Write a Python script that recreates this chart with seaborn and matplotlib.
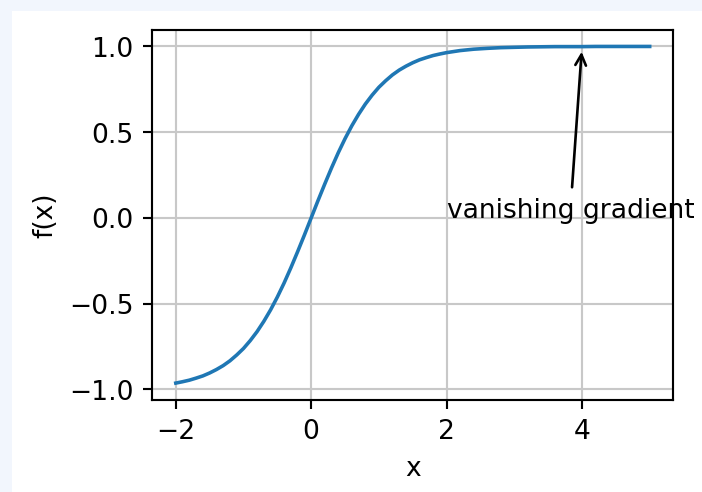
import matplotlib
matplotlib.use("Agg")
import matplotlib.pyplot as plt
from matplotlib.patches import Rectangle
import seaborn as sns

# tanh activation sampled along x
x_vals = [-2.0, -1.9, -1.8, -1.7, -1.6, -1.5, -1.4, -1.3, -1.2, -1.1,
          -1.0, -0.9, -0.8, -0.7, -0.6, -0.5, -0.4, -0.3, -0.2, -0.1,
          0.0, 0.1, 0.2, 0.3, 0.4, 0.5, 0.6, 0.7, 0.8, 0.9,
          1.0, 1.1, 1.2, 1.3, 1.4, 1.5, 1.6, 1.7, 1.8, 1.9,
          2.0, 2.2, 2.4, 2.6, 2.8, 3.0, 3.2, 3.4, 3.6, 3.8,
          4.0, 4.2, 4.4, 4.6, 4.8, 5.0]
y_vals = [-0.964, -0.956, -0.947, -0.935, -0.922, -0.905, -0.885, -0.862, -0.834, -0.800,
          -0.762, -0.716, -0.664, -0.604, -0.537, -0.462, -0.380, -0.291, -0.197, -0.100,
          0.000, 0.100, 0.197, 0.291, 0.380, 0.462, 0.537, 0.604, 0.664, 0.716,
          0.762, 0.800, 0.834, 0.862, 0.885, 0.905, 0.922, 0.935, 0.947, 0.956,
          0.964, 0.976, 0.984, 0.989, 0.993, 0.995, 0.997, 0.998, 0.999, 0.999,
          0.999, 1.000, 1.000, 1.000, 1.000, 1.000]
annot_text = "vanishing gradient"
annot_xy = (4, 1)
annot_text_xy = (2, 0.0)

DPI = 191
fig = plt.figure(figsize=(702.4 / DPI, 492.4 / DPI), dpi=DPI)
fig.patch.set_facecolor("#f2f6fd")
fig.add_artist(Rectangle((12 / 702, 0), 1, 1 - 11 / 492, transform=fig.transFigure,
                         facecolor="white", edgecolor="none", zorder=-10))

ax = fig.add_axes([152 / 702, 1 - 400 / 492, (673 - 152) / 702, (400 - 30) / 492])
sns.lineplot(x=x_vals, y=y_vals, ax=ax, color="#1f77b4", linewidth=1.35)
ax.grid(True, color="#c8c8c8", linewidth=0.8)
ax.set_xlabel("x")
ax.set_ylabel("f(x)")
ax.annotate(annot_text, annot_xy, annot_text_xy, arrowprops=dict(arrowstyle="->"))

fig.savefig("out.png", dpi=DPI, facecolor=fig.get_facecolor())
